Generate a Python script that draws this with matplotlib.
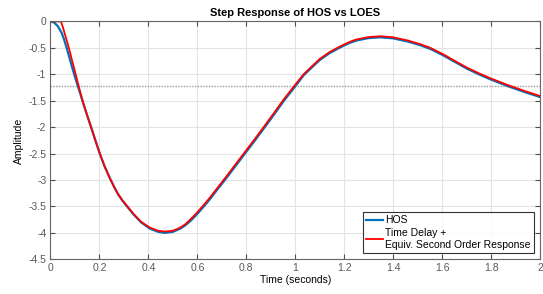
import numpy as np
import matplotlib
matplotlib.use('Agg')
import matplotlib.pyplot as plt

plt.rcParams['font.family'] = ['Liberation Sans', 'DejaVu Sans']
plt.rcParams['axes.unicode_minus'] = False

# values
t_hos = [0, 0.015, 0.03, 0.046, 0.056, 0.066, 0.083, 0.10, 0.117, 0.134, 0.150, 0.168,
         0.184, 0.20, 0.22, 0.243, 0.26, 0.275, 0.293, 0.311, 0.34, 0.37, 0.406, 0.44,
         0.468, 0.50, 0.53, 0.55, 0.575, 0.60, 0.615, 0.632, 0.65, 0.68, 0.714, 0.755,
         0.796, 0.837, 0.877, 0.915, 0.952, 0.996, 1.034, 1.07, 1.10, 1.14, 1.184, 1.22,
         1.25, 1.30, 1.348, 1.40, 1.46, 1.511, 1.552, 1.60, 1.65, 1.70, 1.75, 1.80, 1.875,
         1.94, 2.0]
y_hos = [0, -0.02, -0.09, -0.22, -0.35, -0.5, -0.78, -1.05, -1.30, -1.55, -1.78, -2.03,
         -2.26, -2.48, -2.73, -2.97, -3.13, -3.26, -3.385, -3.49, -3.655, -3.80, -3.92, -3.98,
         -4.0, -3.98, -3.92, -3.86, -3.76, -3.64, -3.56, -3.47, -3.37, -3.19, -2.99, -2.74,
         -2.49, -2.24, -1.99, -1.75, -1.51, -1.25, -1.02, -0.86, -0.73, -0.60, -0.49, -0.41,
         -0.36, -0.315, -0.30, -0.32, -0.38, -0.45, -0.52, -0.63, -0.76, -0.89, -1.00, -1.10, -1.235,
         -1.34, -1.43]

t_loes = [0, 0.043, 0.05, 0.06, 0.07, 0.08, 0.09, 0.10, 0.11, 0.12, 0.134, 0.150, 0.168,
          0.184, 0.20, 0.22, 0.243, 0.26, 0.275, 0.293, 0.311, 0.34, 0.37, 0.406, 0.44,
          0.468, 0.50, 0.53, 0.55, 0.575, 0.60, 0.615, 0.632, 0.65, 0.68, 0.714, 0.755,
          0.796, 0.837, 0.877, 0.915, 0.952, 0.996, 1.034, 1.07, 1.10, 1.14, 1.184, 1.22,
          1.25, 1.30, 1.348, 1.40, 1.46, 1.511, 1.552, 1.60, 1.65, 1.70, 1.75, 1.80, 1.875,
          1.94, 2.0]
y_loes = [0, 0, -0.1, -0.26, -0.42, -0.59, -0.77, -0.95, -1.13, -1.31, -1.55, -1.78, -2.03,
          -2.26, -2.48, -2.73, -2.97, -3.13, -3.26, -3.38, -3.48, -3.645, -3.79, -3.90, -3.96,
          -3.975, -3.96, -3.90, -3.84, -3.73, -3.61, -3.53, -3.44, -3.34, -3.16, -2.96, -2.71,
          -2.46, -2.21, -1.96, -1.72, -1.48, -1.22, -1.0, -0.84, -0.71, -0.58, -0.47, -0.39,
          -0.34, -0.295, -0.28, -0.30, -0.36, -0.43, -0.50, -0.61, -0.74, -0.87, -0.98, -1.08, -1.215,
          -1.32, -1.41]

final_value = -1.23
xticks = np.arange(0, 2.01, 0.2)
yticks = np.arange(-4.5, 0.01, 0.5)

fig = plt.figure(figsize=(5.43, 2.94), dpi=100)
ax = fig.add_axes([0.093, 0.118, 0.9015, 0.809])

ax.axhline(final_value, color='0.6', lw=1.0, ls=(0, (1, 1)))
ax.plot(t_hos, y_hos, color='#0072BD', lw=1.6, label='HOS')
ax.plot(t_loes, y_loes, color='#FF0000', lw=1.3,
        label='Time Delay +\nEquiv. Second Order Response')

ax.set_xlim(0, 2)
ax.set_ylim(-4.5, 0)
ax.set_xticks(xticks)
ax.set_yticks(yticks)
ax.set_xticklabels(['%g' % v for v in xticks])
ax.set_yticklabels(['%g' % round(v, 1) for v in yticks])
ax.grid(True, color='#e3e3e3', lw=0.8)
ax.set_axisbelow(True)
ax.tick_params(direction='in', length=3.5, width=0.8, top=True, right=True,
               labelsize=7.5, colors='0.3', labelcolor='0.35', pad=3)
for s in ax.spines.values():
    s.set_color('0.4')
    s.set_linewidth(0.8)

ax.set_title('Step Response of HOS vs LOES', fontsize=8, fontweight='bold', pad=4)
ax.set_xlabel('Time (seconds)', fontsize=7.5, labelpad=1)
ax.set_ylabel('Amplitude', fontsize=7.5, labelpad=3)

leg = ax.legend(loc='lower right', fontsize=7.5, frameon=True, fancybox=False,
                handlelength=1.6, handletextpad=0.2, borderpad=0.3,
                labelspacing=0.3, borderaxespad=0.6)
leg.get_frame().set_edgecolor('black')
leg.get_frame().set_linewidth(0.8)

fig.savefig('out.png', dpi=100)
